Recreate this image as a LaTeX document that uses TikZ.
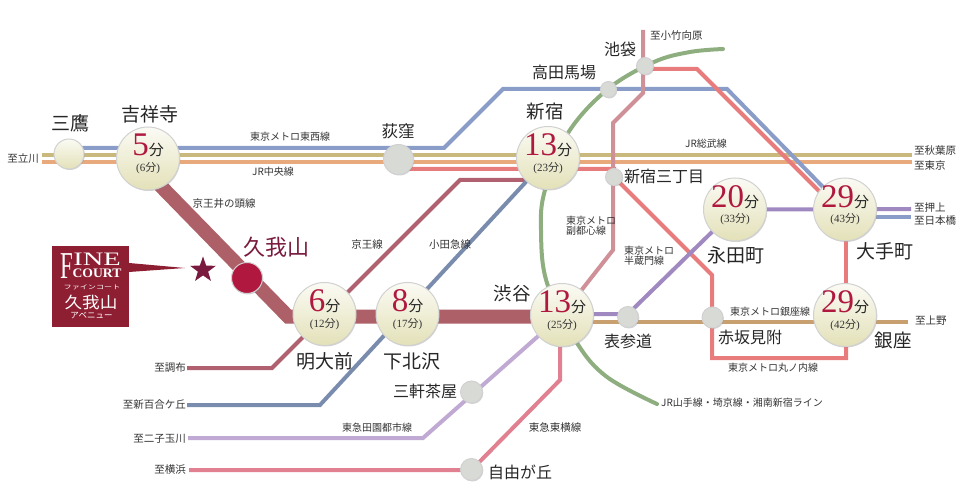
\documentclass[tikz,border=0pt]{standalone}
\usepackage{fontspec}
\setmainfont{Noto Sans CJK JP}
\newfontfamily\numf{Liberation Serif}
\usetikzlibrary{shadows,shapes.geometric}
\pgfdeclarelayer{bg}
\pgfsetlayers{bg,main}
\definecolor{ctozai}{HTML}{8A9CC8}
\definecolor{csobu}{HTML}{C9B97E}
\definecolor{cchuo}{HTML}{E8A97C}
\definecolor{cmaru}{HTML}{E87C7C}
\definecolor{ckeio}{HTML}{B0606E}
\definecolor{codak}{HTML}{7A8CAD}
\definecolor{cdent}{HTML}{C0A9D2}
\definecolor{ctoyo}{HTML}{E08090}
\definecolor{chanz}{HTML}{A088C0}
\definecolor{cginz}{HTML}{C8A070}
\definecolor{cfuku}{HTML}{CF9098}
\definecolor{cgree}{HTML}{8FAE80}
\definecolor{cinok}{HTML}{AD6068}
\definecolor{cnum}{HTML}{B0183F}
\definecolor{cwine}{HTML}{7A1A3E}
\definecolor{clogo}{HTML}{8E1F33}
\definecolor{cream}{HTML}{E3E1B8}
\definecolor{grayst}{HTML}{D8DAD6}
\newcommand{\fs}[1]{\fontsize{#1}{#1}\selectfont}
\newcommand{\tm}[2]{{\numf\fs{33}\color{cnum}#1}{\fs{15}\color{black!85}分}\\[3.5pt]{\fs{11}\color{black!80}{\numf(#2}分{\numf)}}}
\tikzset{
  rail/.style={line width=4pt,line join=miter},
  ball/.style={circle,inner sep=0pt,draw=white!82!black,line width=1pt,drop shadow={shadow xshift=0.8pt,shadow yshift=-1pt,opacity=0.35}},
  bigst/.style={ball,minimum size=63pt,top color=white!85!cream,middle color=white!70!cream,bottom color=cream},
  midst/.style={ball,minimum size=30pt,top color=white!85!cream,middle color=white!70!cream,bottom color=cream},
  grst/.style={ball,fill=grayst},
  tmlab/.style={inner sep=0pt,align=center,yshift=4.5pt},
  sta/.style={inner sep=0pt,text=black!85},
  sm/.style={inner sep=0pt,text=black!80,font=\fs{10}},
  logotxt/.style={inner sep=0pt,text=white},
}
\begin{document}
\begin{tikzpicture}[x=1pt,y=-1pt]
\useasboundingbox (0,0) rectangle (960,502);
% stations
\node[midst] (mitaka) at (69,154) {};
\node[bigst,label={[tmlab]center:\tm{5}{6}}] (kichi) at (148,158.5) {};
\node[grst,minimum size=30pt] (ogi) at (398.5,159.5) {};
\node[bigst,label={[tmlab]center:\tm{13}{23}}] (shinj) at (548,158) {};
\node[grst,minimum size=16pt] (taka) at (608.5,89.5) {};
\node[grst,minimum size=17pt] (ike) at (645,66) {};
\node[grst,minimum size=17pt] (san) at (614,177) {};
\node[bigst,label={[tmlab]center:\tm{20}{33}}] (naga) at (735,209.5) {};
\node[bigst,label={[tmlab]center:\tm{29}{43}}] (ote) at (845,209.5) {};
\node[bigst,label={[tmlab]center:\tm{29}{42}}] (ginza) at (845,315) {};
\node[grst,minimum size=21pt] (aka) at (712.5,317.5) {};
\node[grst,minimum size=21pt] (omo) at (628,317) {};
\node[bigst,label={[tmlab]center:\tm{13}{25}}] (shib) at (562,315) {};
\node[bigst,label={[tmlab]center:\tm{8}{17}}] (shimo) at (407.5,314) {};
\node[bigst,label={[tmlab]center:\tm{6}{12}}] (mei) at (324.5,314) {};
\node[ball,fill=cnum,minimum size=31pt] (kuga) at (247,278) {};
\node[grst,minimum size=22pt] (sanch) at (471.5,392) {};
\node[grst,minimum size=22pt] (jiyu) at (471.5,469.5) {};
% free ends
\coordinate (wL) at (42,155);
\coordinate (oL) at (42,162);
\coordinate (sobuR) at (912,155);
\coordinate (chuoR) at (912,162);
\coordinate (oshiage) at (911,209);
\coordinate (nihon) at (911,217);
\coordinate (ueno) at (908,322);
\coordinate (kotake) at (643,30);
\coordinate (grE) at (723,49);
\coordinate (grS) at (657,404);
\coordinate (chofu) at (187,368);
\coordinate (yuri) at (187,405);
\coordinate (futa) at (188,438);
\coordinate (yoko) at (189,470);
\coordinate (kB) at (150,175);
\begin{pgfonlayer}{bg}
\draw[rail,csobu] (wL) -- (sobuR);
\draw[rail,cchuo] (oL) -- (chuoR);
\draw[rail,ctozai] (mitaka.center) -- (69,148) -- (444,148) -- (503,89) -- (727,89) -- (ote.center);
\draw[rail,ctozai] (ote.center |- nihon) -- (nihon);
\draw[rail,cmaru] (ogi.center) -- (398,169) -- (614,169) -- (san.center) -- (712,275) -- (712,358) -- (846,358) -- (846,315);
\draw[rail,cmaru] (846,315) -- (846,209);
\draw[rail,cmaru] (ike.center) -- (645,69) -- (697,69) -- (846,218);
\draw[rail,cfuku] (kotake) -- (643,93) -- (613,123) -- (613,250) -- (shib.center);
\draw[rail,cgree,line cap=round] plot[smooth,tension=0.6] coordinates {(grE) (690,52) (654,62) (608,89) (568,133) (545,190) (541,230) (547,283) (577,343) (607,377) (grS)};
\draw[line width=14pt,cinok] (kB) -- (288,316.5) -- (562,316.5);
\draw[rail,ckeio] (chofu) -- (272,368) -- (460,180) -- (545,180);
\draw[rail,codak] (yuri) -- (320,405) -- (shinj.center);
\draw[rail,cdent] (futa) -- (423,438) -- (shib.center);
\draw[rail,ctoyo] (yoko) -- (471.5,470) -- (560,380) -- (560,320);
\draw[rail,chanz] (oshiage) -- (naga.center) -- (628,314) -- (563,314);
\draw[rail,cginz] (563,322) -- (ueno);
\end{pgfonlayer}
% station names
\node[sta,font=\fs{19}] (l1) at (70,123) {三鷹};
\node[sta,font=\fs{19}] (l2) at (150,114) {吉祥寺};
\node[sta,font=\fs{16.5}] (l3) at (398,131) {荻窪};
\node[sta,font=\fs{18.5}] (l4) at (545,112) {新宿};
\node[sta,font=\fs{16}] (l5) at (564,72) {高田馬場};
\node[sta,font=\fs{16}] (l6) at (620,49) {池袋};
\node[sta,font=\fs{16},anchor=west] (l7) at (624,176) {新宿三丁目};
\node[sta,font=\fs{19}] (l8) at (736,255) {永田町};
\node[sta,font=\fs{19}] (l9) at (885,251) {大手町};
\node[sta,font=\fs{18.5}] (l10) at (893,340) {銀座};
\node[sta,font=\fs{16}] (l11) at (750,337) {赤坂見附};
\node[sta,font=\fs{16}] (l12) at (628,341) {表参道};
\node[sta,font=\fs{18.5}] (l13) at (512,293) {渋谷};
\node[sta,font=\fs{19}] (l14) at (325,361) {明大前};
\node[sta,font=\fs{19}] (l15) at (412,361) {下北沢};
\node[sta,font=\fs{16}] (l16) at (425,391) {三軒茶屋};
\node[sta,font=\fs{16}] (l17) at (520,472) {自由が丘};
\node[sta,font=\fs{22},text=cwine] (l18) at (276,247) {久我山};
% line labels
\node[sm] (s1) at (290,137) {東京メトロ東西線};
\node[sm] (s2) at (273,172) {JR中央線};
\node[sm,font=\fs{10.5}] (s3) at (224,204) {京王井の頭線};
\node[sm,font=\fs{10.5}] (s4) at (23,159) {至立川};
\node[sm,font=\fs{10.5}] (s5) at (367,245) {京王線};
\node[sm,font=\fs{10.5}] (s6) at (450,245) {小田急線};
\node[sm,align=left,anchor=west] (s7) at (566,226) {東京メトロ\\副都心線};
\node[sm,align=left,anchor=west] (s8) at (624,256) {東京メトロ\\半蔵門線};
\node[sm] (s9) at (706,144) {JR総武線};
\node[sm,font=\fs{10.5},anchor=west] (s10) at (914,151) {至秋葉原};
\node[sm,font=\fs{10.5},anchor=west] (s11) at (914,166) {至東京};
\node[sm,font=\fs{10.5},anchor=west] (s12) at (914,208) {至押上};
\node[sm,font=\fs{10.5},anchor=west] (s13) at (914,221) {至日本橋};
\node[sm,font=\fs{10.5},anchor=west] (s14) at (915,321) {至上野};
\node[sm,font=\fs{10.5},anchor=west] (s15) at (650,36) {至小竹向原};
\node[sm] (s16) at (770,312) {東京メトロ銀座線};
\node[sm] (s17) at (773,368) {東京メトロ丸ノ内線};
\node[sm,anchor=west] (s18) at (661,403) {JR山手線・埼京線・湘南新宿ライン};
\node[sm,font=\fs{10.5}] (s19) at (555,428) {東急東横線};
\node[sm] (s20) at (377,428) {東急田園都市線};
\node[sm,font=\fs{10.5},anchor=east] (s21) at (186,368) {至調布};
\node[sm,font=\fs{10.5},anchor=east] (s22) at (186,405) {至新百合ケ丘};
\node[sm,font=\fs{10.5},anchor=east] (s23) at (186,439) {至二子玉川};
\node[sm,font=\fs{10.5},anchor=east] (s24) at (186,470) {至横浜};
% logo
\fill[clogo] (52,246) rectangle (129,327);
\fill[clogo] (129,263) -- (185,268) -- (129,272) -- cycle;
\node[star,star points=5,star point ratio=2.5,fill=cwine,inner sep=0pt,minimum size=27pt] (star1) at (203,270) {};
\node[logotxt,font=\numf\fs{38},xscale=0.6] (f1) at (67,266) {F};
\node[logotxt,font=\numf\fs{19},xscale=1.5] (f2) at (97,259.5) {INE};
\node[logotxt,font=\numf\bfseries\fs{13},xscale=1.05] (f3) at (97,273) {COURT};
\node[logotxt,font=\fs{6},xscale=1.35] (f4) at (92,287) {ファインコート};
\node[logotxt,font=\fs{16},xscale=1.1] (f5) at (91,302) {久我山};
\node[logotxt,font=\fs{8.5}] (f6) at (91.5,316) {アベニュー};
\end{tikzpicture}
\end{document}
